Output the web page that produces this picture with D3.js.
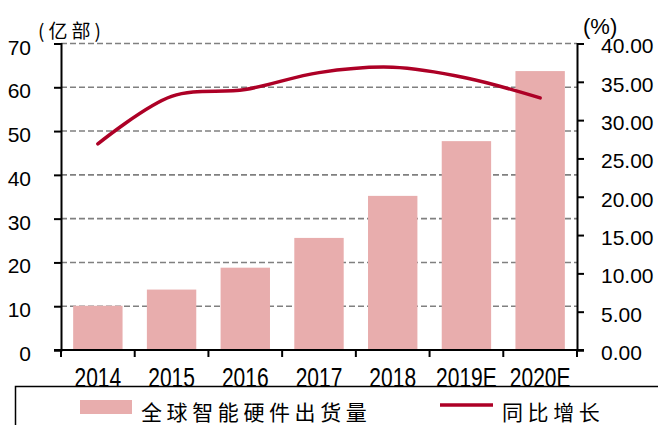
<!DOCTYPE html>
<html>
<head>
<meta charset="utf-8">
<script src="https://cdn.jsdelivr.net/npm/d3@7"></script>
<style>
  html, body { margin: 0; padding: 0; background: #fff; }
  svg { display: block; }
</style>
</head>
<body>
<div id="chart"></div>
<script>
// data
const years = ["2014", "2015", "2016", "2017", "2018", "2019E", "2020E"];
const shipments = [10.1, 13.8, 18.8, 25.6, 35.2, 47.7, 63.7];   // 亿部
const growth = [26.9, 33.1, 34.0, 36.2, 36.9, 35.5, 32.9];      // %
const leftTicks = [0, 10, 20, 30, 40, 50, 60, 70];
const rightTicks = [0, 5, 10, 15, 20, 25, 30, 35, 40];

const W = 658, H = 425;
const plot = { left: 61, right: 577, top: 43.5, bottom: 350 };
const barColour = "#E8ADAD";
const lineColour = "#AD0026";
const numFont = "'Liberation Sans', Arial, sans-serif";
const cjkFont = "'Noto Sans CJK SC', sans-serif";

const svg = d3.select("#chart").append("svg")
  .attr("width", W)
  .attr("height", H);

const x = d3.scaleBand()
  .domain(years)
  .range([plot.left, plot.right])
  .paddingInner(0.33)
  .paddingOuter(0.165);

const yL = d3.scaleLinear().domain([0, 70]).range([plot.bottom, plot.top]);
const yR = d3.scaleLinear().domain([0, 40]).range([plot.bottom, plot.top]);

// dashed grid
svg.append("g")
  .selectAll("line")
  .data(leftTicks.filter(d => d > 0))
  .join("line")
  .attr("x1", plot.left)
  .attr("x2", plot.right)
  .attr("y1", d => yL(d))
  .attr("y2", d => yL(d))
  .attr("stroke", "#808080")
  .attr("stroke-width", 1.6)
  .attr("stroke-dasharray", "6,3");

// bars
svg.append("g")
  .selectAll("rect")
  .data(years.map((y, i) => ({ year: y, v: shipments[i] })))
  .join("rect")
  .attr("x", d => x(d.year))
  .attr("width", x.bandwidth())
  .attr("y", d => yL(d.v))
  .attr("height", d => yL(0) - yL(d.v))
  .attr("fill", barColour);

// growth line
const line = d3.line()
  .x((d, i) => x(years[i]) + x.bandwidth() / 2)
  .y(d => yR(d))
  .curve(d3.curveCatmullRom.alpha(0.5));

svg.append("path")
  .datum(growth)
  .attr("d", line)
  .attr("fill", "none")
  .attr("stroke", lineColour)
  .attr("stroke-width", 3.5)
  .attr("stroke-linecap", "round");

// left axis
const axL = svg.append("g")
  .attr("transform", `translate(${plot.left},0)`)
  .call(d3.axisLeft(yL).tickValues(leftTicks).tickSize(7).tickPadding(23).tickFormat(d3.format("d")));
axL.select(".domain").attr("stroke", "#000").attr("stroke-width", 2);
axL.selectAll(".tick line").attr("stroke", "#000").attr("stroke-width", 2);
axL.selectAll(".tick text")
  .attr("font-family", numFont)
  .attr("font-size", 21)
  .attr("fill", "#000")
  .attr("dy", "0.5em");

// right axis
const axR = svg.append("g")
  .attr("transform", `translate(${plot.right},0)`)
  .call(d3.axisRight(yR).tickValues(rightTicks).tickSize(7).tickPadding(17).tickFormat(d3.format(".2f")));
axR.select(".domain").attr("stroke", "#000").attr("stroke-width", 2);
axR.selectAll(".tick line").attr("stroke", "#000").attr("stroke-width", 2);
axR.selectAll(".tick text")
  .attr("font-family", numFont)
  .attr("font-size", 21)
  .attr("fill", "#000")
  .attr("dy", "0.45em");

// bottom axis line and category boundary ticks
svg.append("line")
  .attr("x1", plot.left - 7).attr("x2", plot.right + 7)
  .attr("y1", plot.bottom).attr("y2", plot.bottom)
  .attr("stroke", "#000").attr("stroke-width", 2);

const half = x.step() * x.paddingInner() / 2;
const bounds = years.map(d => x(d) - half).concat([plot.right]);
svg.append("g")
  .selectAll("line")
  .data(bounds)
  .join("line")
  .attr("x1", d => d).attr("x2", d => d)
  .attr("y1", plot.bottom).attr("y2", plot.bottom + 7)
  .attr("stroke", "#000").attr("stroke-width", 2);

// category labels (tall, condensed look)
svg.append("g")
  .selectAll("text")
  .data(years)
  .join("text")
  .attr("transform", d => `translate(${x(d) + x.bandwidth() / 2},386.5) scale(1,1.3)`)
  .attr("text-anchor", "middle")
  .attr("font-family", numFont)
  .attr("font-size", 21)
  .attr("fill", "#000")
  .text(d => d);

// unit labels
svg.append("text")
  .attr("x", 38).attr("y", 38)
  .attr("font-family", cjkFont)
  .attr("font-size", 19)
  .attr("letter-spacing", 4)
  .attr("fill", "#000")
  .text("(亿部)");

svg.append("text")
  .attr("x", 583).attr("y", 34)
  .attr("font-family", numFont)
  .attr("font-size", 22)
  .attr("fill", "#000")
  .text("(%)");

// legend box (covers the bottom of the year labels)
svg.append("rect")
  .attr("x", 15.5).attr("y", 386.5)
  .attr("width", W).attr("height", 60)
  .attr("fill", "#fff")
  .attr("stroke", "#000")
  .attr("stroke-width", 1.5);

const legend = svg.append("g");
legend.append("rect")
  .attr("x", 80).attr("y", 400)
  .attr("width", 52).attr("height", 14)
  .attr("fill", barColour);
legend.append("text")
  .attr("x", 141).attr("y", 411)
  .attr("dominant-baseline", "central")
  .attr("font-family", cjkFont)
  .attr("font-size", 21)
  .attr("letter-spacing", 4.6)
  .attr("fill", "#000")
  .text("全球智能硬件出货量");

legend.append("line")
  .attr("x1", 440).attr("x2", 493)
  .attr("y1", 405).attr("y2", 405)
  .attr("stroke", lineColour)
  .attr("stroke-width", 3.5);
legend.append("text")
  .attr("x", 502).attr("y", 411)
  .attr("dominant-baseline", "central")
  .attr("font-family", cjkFont)
  .attr("font-size", 21)
  .attr("letter-spacing", 4.6)
  .attr("fill", "#000")
  .text("同比增长");
</script>
</body>
</html>
